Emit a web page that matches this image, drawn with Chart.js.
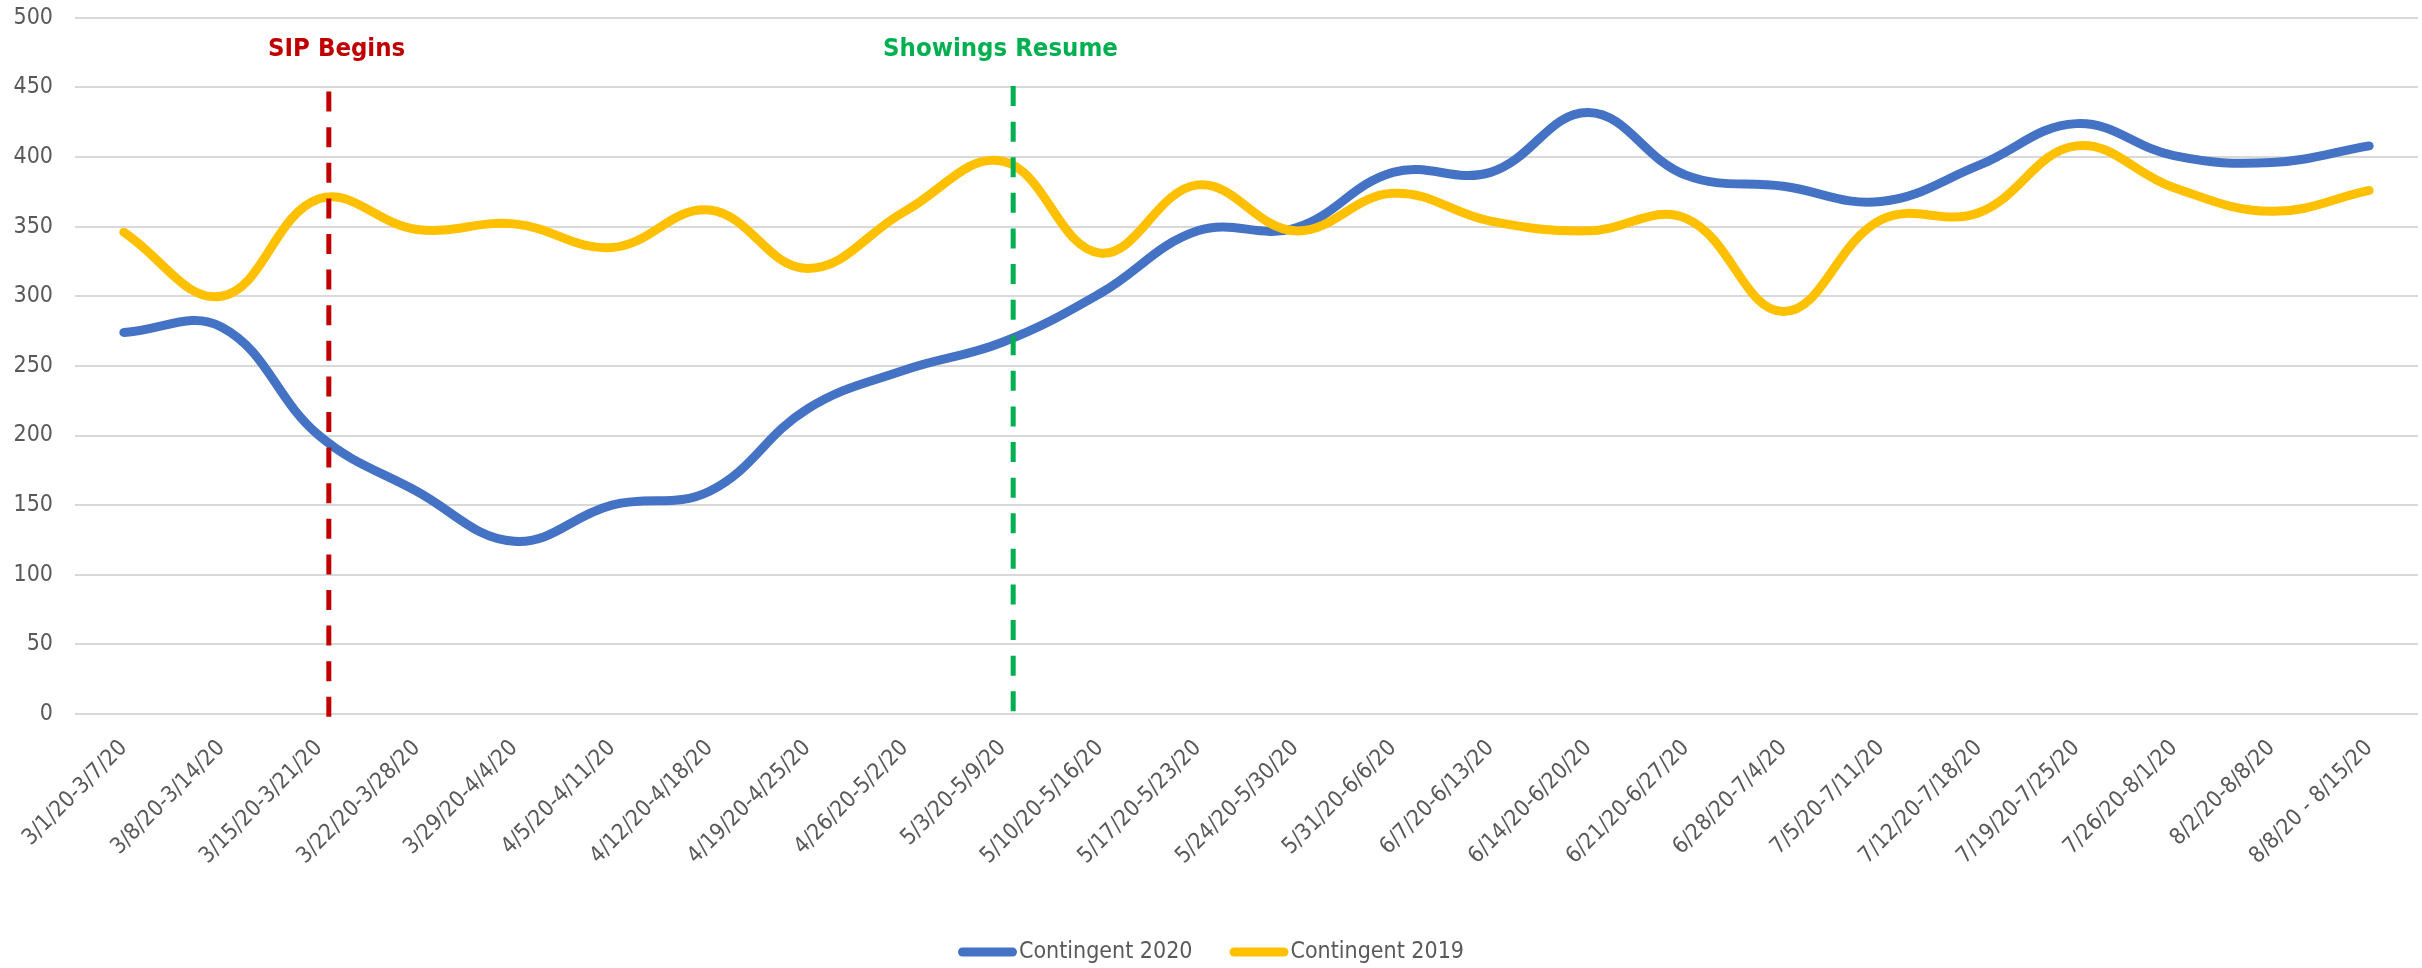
<!DOCTYPE html>
<html>
<head>
<meta charset="utf-8">
<script src="https://cdn.jsdelivr.net/npm/chart.js@4.4.1/dist/chart.umd.min.js"></script>
<style>
  html, body { margin: 0; padding: 0; background: #ffffff; }
  #wrap { width: 2422px; height: 968px; }
</style>
</head>
<body>
<div id="wrap"><canvas id="c" width="2422" height="968"></canvas></div>
<script>
const categories = [
  "3/1/20-3/7/20", "3/8/20-3/14/20", "3/15/20-3/21/20", "3/22/20-3/28/20",
  "3/29/20-4/4/20", "4/5/20-4/11/20", "4/12/20-4/18/20", "4/19/20-4/25/20",
  "4/26/20-5/2/20", "5/3/20-5/9/20", "5/10/20-5/16/20", "5/17/20-5/23/20",
  "5/24/20-5/30/20", "5/31/20-6/6/20", "6/7/20-6/13/20", "6/14/20-6/20/20",
  "6/21/20-6/27/20", "6/28/20-7/4/20", "7/5/20-7/11/20", "7/12/20-7/18/20",
  "7/19/20-7/25/20", "7/26/20-8/1/20", "8/2/20-8/8/20", "8/8/20 - 8/15/20"
];
const contingent2020 = [274, 278, 200, 160, 124, 150, 160, 219, 247, 267, 302, 347,
                        349, 389, 389, 432, 387, 379, 368, 394, 424, 401, 396, 408];
const contingent2019 = [346, 300, 370, 348, 352, 335, 362, 320, 361, 397, 331, 380,
                        347, 374, 354, 347, 356, 289, 355, 360, 408, 378, 361, 376];
const yTicks = { min: 0, max: 500, step: 50 };
const markers = [
  { label: "SIP Begins", at: 2.1, labelAt: 2.18, top: 447, color: "#C00000" },
  { label: "Showings Resume", at: 9.11, labelAt: 8.98, top: 451, color: "#00B050" }
];
const markerLabelValue = 477;

const FONT = '"DejaVu Sans Condensed", "Liberation Sans", sans-serif';

const markerPlugin = {
  id: 'markers',
  afterDatasetsDraw(chart) {
    const ctx = chart.ctx;
    const xs = chart.scales.x, ys = chart.scales.y;
    ctx.save();
    markers.forEach(m => {
      const x = xs.getPixelForValue(m.at);
      ctx.beginPath();
      ctx.setLineDash([20, 15.6]);
      ctx.lineWidth = 5;
      ctx.strokeStyle = m.color;
      ctx.moveTo(x, ys.getPixelForValue(m.top));
      ctx.lineTo(x, ys.getPixelForValue(0) + 4);
      ctx.stroke();
    });
    ctx.setLineDash([]);
    markers.forEach(m => {
      const lx = xs.getPixelForValue(m.labelAt);
      ctx.fillStyle = m.color;
      ctx.font = 'bold 25.5px ' + FONT;
      ctx.textAlign = 'center';
      ctx.textBaseline = 'middle';
      ctx.fillText(m.label, lx, ys.getPixelForValue(markerLabelValue));
    });
    ctx.restore();
  }
};

const legendPlugin = {
  id: 'customLegend',
  afterDraw(chart) {
    const ctx = chart.ctx;
    const ds = chart.data.datasets;
    const sw = 59, gap = 2, spacing = 37, cy = 952;
    ctx.save();
    ctx.font = '23px ' + FONT;
    const widths = ds.map(d => sw + gap + ctx.measureText(d.label).width);
    const total = widths.reduce((a, b) => a + b, 0) + spacing * (ds.length - 1);
    let x = (chart.width - total) / 2;
    ds.forEach((d, i) => {
      ctx.beginPath();
      ctx.lineCap = 'round';
      ctx.lineWidth = 9;
      ctx.strokeStyle = d.borderColor;
      ctx.moveTo(x + 4.5, cy);
      ctx.lineTo(x + sw - 4.5, cy);
      ctx.stroke();
      ctx.fillStyle = '#595959';
      ctx.textAlign = 'left';
      ctx.textBaseline = 'middle';
      ctx.fillText(d.label, x + sw + gap, cy);
      x += widths[i] + spacing;
    });
    ctx.restore();
  }
};

new Chart(document.getElementById('c'), {
  type: 'line',
  data: {
    labels: categories,
    datasets: [
      {
        label: 'Contingent 2020',
        data: contingent2020,
        borderColor: '#4472C4',
        backgroundColor: '#4472C4',
        borderWidth: 9,
        borderCapStyle: 'round',
        borderJoinStyle: 'round',
        pointRadius: 0,
        tension: 0.4,
        fill: false,
        order: 1
      },
      {
        label: 'Contingent 2019',
        data: contingent2019,
        borderColor: '#FFC000',
        backgroundColor: '#FFC000',
        borderWidth: 9,
        borderCapStyle: 'round',
        borderJoinStyle: 'round',
        pointRadius: 0,
        tension: 0.4,
        fill: false,
        order: 0
      }
    ]
  },
  options: {
    responsive: false,
    animation: false,
    devicePixelRatio: 1,
    layout: { padding: { top: 0, right: 4, left: 0, bottom: 0 } },
    plugins: {
      legend: { display: false },
      tooltip: { enabled: false }
    },
    scales: {
      x: {
        offset: true,
        grid: { display: false, drawTicks: false },
        border: { display: false },
        ticks: {
          autoSkip: false,
          maxRotation: 45,
          minRotation: 45,
          padding: 21,
          color: '#595959',
          font: { family: FONT, size: 22.5 }
        },
        afterFit(scale) { scale.height = 254; }
      },
      y: {
        min: yTicks.min,
        max: yTicks.max,
        grid: { color: '#D9D9D9', lineWidth: 2, drawTicks: true, tickLength: 18, tickColor: 'rgba(0,0,0,0)' },
        border: { display: false },
        ticks: {
          stepSize: yTicks.step,
          padding: 4,
          color: '#595959',
          font: { family: FONT, size: 23 }
        },
        afterFit(scale) { scale.width = 75; }
      }
    }
  },
  plugins: [markerPlugin, legendPlugin]
});
</script>
</body>
</html>
